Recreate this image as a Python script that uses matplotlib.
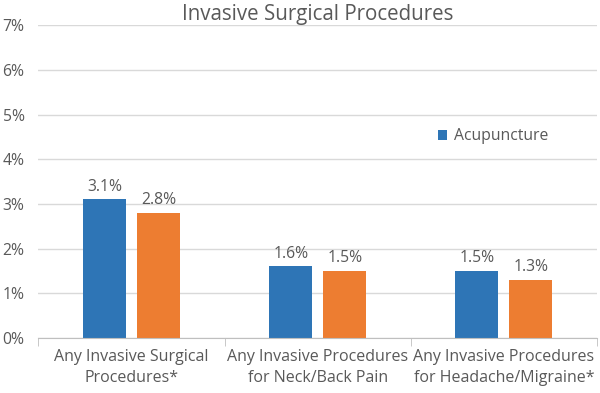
import numpy as np
import matplotlib.pyplot as plt
from matplotlib.ticker import PercentFormatter

plt.rcParams['font.family'] = ['Open Sans', 'DejaVu Sans']

categories = ['Any Invasive Surgical\nProcedures*',
              'Any Invasive Procedures\nfor Neck/Back Pain',
              'Any Invasive Procedures\nfor Headache/Migraine*']
acupuncture = [3.1, 1.6, 1.5]
comparison = [2.8, 1.5, 1.3]

blue = '#2E75B6'
orange = '#ED7D31'
gray = '#595959'

fig = plt.figure(figsize=(6, 3.93), dpi=100)
ax = fig.add_axes([0.064, 0.14, 0.931, 0.796])

x = np.arange(len(categories))
w = 0.23
off = 0.145
b1 = ax.bar(x - off, acupuncture, w, color=blue, label='Acupuncture')
b2 = ax.bar(x + off, comparison, w, color=orange)

for bars, vals in [(b1, acupuncture), (b2, comparison)]:
    for b, v in zip(bars, vals):
        ax.text(b.get_x() + b.get_width() / 2, v + 0.1, f'{v:.1f}%',
                ha='center', va='bottom', fontsize=11.3, color=gray)

ax.set_ylim(0, 7)
ax.set_xlim(-0.5, 2.5)
ax.yaxis.set_major_formatter(PercentFormatter(decimals=0))
ax.set_yticks(range(0, 8))
ax.grid(axis='y', color='#D9D9D9', lw=1)
ax.set_axisbelow(True)
for s in ['top', 'right', 'left']:
    ax.spines[s].set_visible(False)
ax.spines['bottom'].set_color('#BFBFBF')

ax.set_xticks(x)
ax.set_xticklabels(categories, fontsize=11.5, color=gray, linespacing=1.45)
ax.tick_params(axis='x', length=0, pad=8)
ax.set_xticks([-0.5, 0.5, 1.5, 2.5], minor=True)
ax.tick_params(axis='x', which='minor', length=6, color='#BFBFBF')
ax.tick_params(axis='y', length=0, labelsize=11.3, labelcolor=gray, pad=10)

ax.set_title('Invasive Surgical Procedures', fontsize=14.8, color=gray, pad=3)

ax.legend(loc='upper left', bbox_to_anchor=(0.69, 0.715), frameon=False,
          fontsize=11.3, labelcolor=gray, handlelength=0.6, handleheight=0.6,
          handletextpad=0.4)

plt.savefig('out.png')
